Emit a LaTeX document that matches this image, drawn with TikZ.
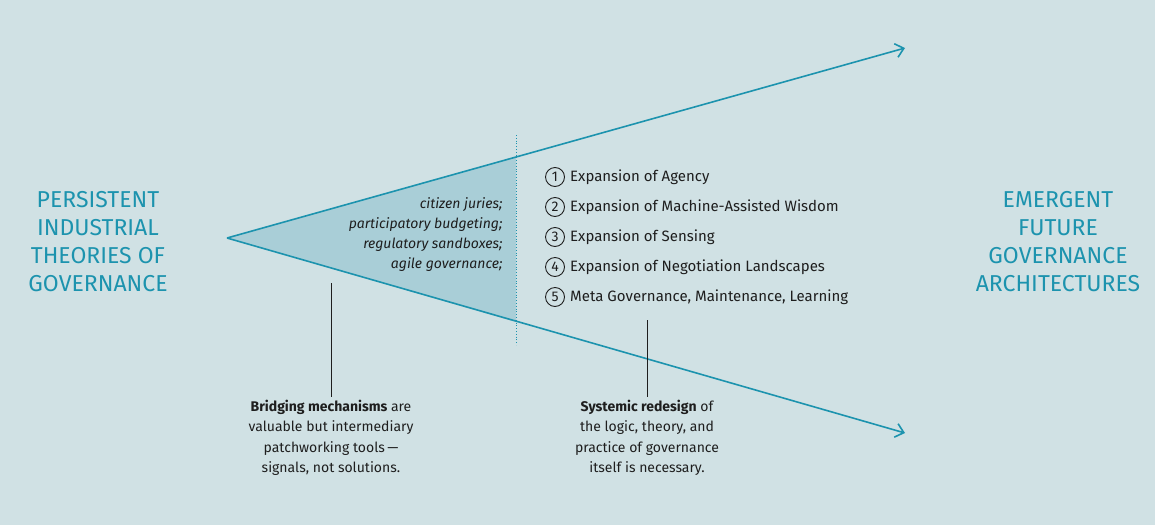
\documentclass[tikz,border=0pt]{standalone}
\usepackage{fontspec}
\setmainfont{Fira Sans}
\usetikzlibrary{arrows.meta}
\definecolor{bg}{HTML}{D0E1E4}
\definecolor{teal}{HTML}{1C93AE}
\definecolor{tfill}{HTML}{A9CED7}
\definecolor{ink}{HTML}{1E1E1E}
\tikzset{
  ray/.style={teal,line width=1.6pt,-{Straight Barb[length=8pt,width=14pt,line width=1.6pt]}},
  title/.style={text=teal,font=\fontsize{23}{28}\selectfont,align=center},
  item/.style={anchor=west,font=\fontsize{15}{18}\selectfont,text=ink,inner sep=0},
  note/.style={font=\fontsize{14}{20.5}\selectfont,text=ink,align=center},
  num/.style={circle,draw=ink,line width=0.9pt,inner sep=0,minimum size=19pt,font=\fontsize{14}{14}\selectfont,text=ink}
}
\begin{document}
\begin{tikzpicture}[x=1pt,y=-1pt]
\fill[bg] (0,0) rectangle (1155,525);
\useasboundingbox (0,0) rectangle (1155,525);
\coordinate (apex) at (227,238);
\coordinate (top) at (905,48);
\coordinate (bot) at (905,433);
\coordinate (tu) at (516,157);
\coordinate (tl) at (516,322);
\fill[tfill] (apex) -- (tu) -- (tl) -- cycle;
\draw[ray] (apex) -- (top);
\draw[ray] (apex) -- (bot);
\coordinate (d1) at (516,135);
\coordinate (d2) at (516,345);
\draw[teal,line width=0.8pt,dotted] (d1) -- (d2);
\node[title] (lt) at (98,242) {PERSISTENT\\INDUSTRIAL\\THEORIES OF\\GOVERNANCE};
\node[title] (rt) at (1058,242) {EMERGENT\\FUTURE\\GOVERNANCE\\ARCHITECTURES};
\node[anchor=east,align=right,font=\itshape\fontsize{14}{20}\selectfont,text=ink] (br) at (506,235)
 {citizen juries;\\participatory budgeting;\\regulatory sandboxes;\\agile governance;};
\foreach \n/\t [count=\i] in {1/Expansion of Agency,2/Expansion of Machine-Assisted Wisdom,3/Expansion of Sensing,4/Expansion of Negotiation Landscapes,5/{Meta Governance, Maintenance, Learning}}{
  \node[num] (c\i) at (555,{147+30*\i}) {\n};
  \node[item] (t\i) at (570,{147+30*\i}) {\t};
}
\node[note] (nl) at (331,438) {\textbf{Bridging mechanisms} are\\valuable but intermediary\\patchworking tools\,—\\signals, not solutions.};
\node[note] (nr) at (647,438) {\textbf{Systemic redesign} of\\the logic, theory, and\\practice of governance\\itself is necessary.};
\coordinate (l1) at (331,283);
\coordinate (r1) at (647,320);
\draw[ink,line width=0.9pt] (l1) -- (nl.north);
\draw[ink,line width=0.9pt] (r1) -- (nr.north);
\end{tikzpicture}
\end{document}
